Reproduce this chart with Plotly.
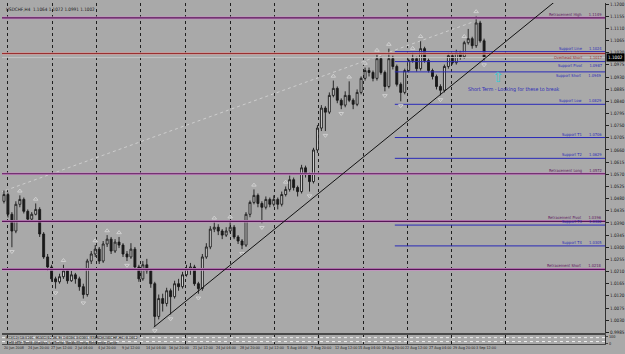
import plotly.graph_objects as go

# ---------------- data ----------------
bar_index = list(range(122))
opens = [1.0470,1.0495,1.0422,1.0360,1.0459,1.0477,1.0433,1.0404,1.0422,1.0440,
         1.0349,1.0264,1.0227,1.0183,1.0172,1.0191,1.0213,1.0176,1.0198,1.0183,
         1.0154,1.0125,1.0249,1.0275,1.0293,1.0249,1.0312,1.0330,1.0286,1.0319,
         1.0308,1.0275,1.0264,1.0293,1.0227,1.0183,1.0235,1.0213,1.0165,1.0044,
         1.0110,1.0092,1.0139,1.0117,1.0165,1.0154,1.0198,1.0220,1.0227,1.0165,
         1.0147,1.0264,1.0301,1.0367,1.0374,1.0360,1.0345,1.0360,1.0374,1.0338,
         1.0323,1.0308,1.0422,1.0466,1.0492,1.0462,1.0448,1.0477,1.0459,1.0477,
         1.0459,1.0495,1.0514,1.0550,1.0521,1.0506,1.0594,1.0569,1.0543,1.0660,
         1.0741,1.0815,1.0800,1.0862,1.0888,1.0844,1.0826,1.0862,1.0844,1.0829,
         1.0873,1.0925,1.0954,1.0947,1.0925,1.0998,1.0947,1.0895,1.0998,1.0969,
         1.0903,1.0873,1.0954,1.0991,1.0998,1.0961,1.1035,1.0991,1.0954,1.0932,
         1.0895,1.0881,1.0969,1.1009,1.0983,1.1020,1.1005,1.1057,1.1072,1.1046,
         1.1130,1.1064]
highs = [1.0510,1.0502,1.0430,1.0470,1.0492,1.0484,1.0440,1.0430,1.0462,1.0448,
         1.0356,1.0275,1.0235,1.0191,1.0202,1.0235,1.0220,1.0213,1.0205,1.0191,
         1.0165,1.0257,1.0286,1.0308,1.0301,1.0323,1.0345,1.0338,1.0330,1.0338,
         1.0315,1.0286,1.0315,1.0301,1.0235,1.0249,1.0257,1.0220,1.0172,1.0125,
         1.0128,1.0150,1.0147,1.0176,1.0183,1.0209,1.0235,1.0242,1.0235,1.0172,
         1.0275,1.0315,1.0378,1.0392,1.0385,1.0367,1.0374,1.0396,1.0382,1.0345,
         1.0330,1.0430,1.0473,1.0514,1.0499,1.0470,1.0488,1.0484,1.0492,1.0484,
         1.0506,1.0525,1.0565,1.0558,1.0528,1.0605,1.0602,1.0576,1.0668,1.0752,
         1.0826,1.0822,1.0873,1.0917,1.0895,1.0851,1.0877,1.0914,1.0851,1.0884,
         1.0932,1.0965,1.0965,1.0954,1.1013,1.1005,1.0954,1.1035,1.1009,1.0976,
         1.0910,1.0961,1.0998,1.1020,1.1005,1.1064,1.1042,1.0998,1.0961,1.0939,
         1.0903,1.0976,1.1020,1.1016,1.1031,1.1027,1.1064,1.1108,1.1079,1.1156,
         1.1138,1.1072]
lows = [1.0462,1.0410,1.0300,1.0352,1.0448,1.0425,1.0396,1.0398,1.0418,1.0338,
        1.0257,1.0213,1.0172,1.0147,1.0165,1.0183,1.0165,1.0172,1.0165,1.0139,
        1.0110,1.0117,1.0238,1.0264,1.0238,1.0242,1.0301,1.0275,1.0279,1.0297,
        1.0264,1.0249,1.0257,1.0220,1.0172,1.0176,1.0202,1.0150,1.0007,1.0033,
        1.0062,1.0081,1.0051,1.0110,1.0139,1.0147,1.0191,1.0198,1.0157,1.0128,
        1.0139,1.0257,1.0293,1.0356,1.0345,1.0330,1.0338,1.0352,1.0330,1.0312,
        1.0293,1.0301,1.0411,1.0459,1.0448,1.0389,1.0440,1.0448,1.0451,1.0440,
        1.0451,1.0488,1.0506,1.0510,1.0488,1.0499,1.0558,1.0506,1.0536,1.0649,
        1.0730,1.0730,1.0793,1.0855,1.0833,1.0811,1.0818,1.0837,1.0811,1.0822,
        1.0866,1.0917,1.0932,1.0914,1.0917,1.0939,1.0877,1.0888,1.0958,1.0895,
        1.0840,1.0866,1.0947,1.0983,1.0950,1.0954,1.0983,1.0947,1.0921,1.0884,
        1.0862,1.0873,1.0961,1.0976,1.0976,1.0994,1.0998,1.1050,1.1035,1.1038,
        1.1057,1.0991]
closes = [1.0495,1.0422,1.0360,1.0459,1.0477,1.0433,1.0404,1.0422,1.0440,1.0349,
          1.0264,1.0227,1.0183,1.0172,1.0191,1.0213,1.0176,1.0198,1.0183,1.0154,
          1.0125,1.0249,1.0275,1.0293,1.0249,1.0312,1.0330,1.0286,1.0319,1.0308,
          1.0275,1.0264,1.0293,1.0227,1.0183,1.0235,1.0213,1.0165,1.0044,1.0110,
          1.0092,1.0139,1.0117,1.0165,1.0154,1.0198,1.0220,1.0227,1.0165,1.0147,
          1.0264,1.0301,1.0367,1.0374,1.0360,1.0345,1.0360,1.0374,1.0338,1.0323,
          1.0308,1.0422,1.0466,1.0492,1.0462,1.0448,1.0477,1.0459,1.0477,1.0459,
          1.0495,1.0514,1.0550,1.0521,1.0506,1.0594,1.0569,1.0543,1.0660,1.0741,
          1.0815,1.0800,1.0862,1.0888,1.0844,1.0826,1.0862,1.0844,1.0829,1.0873,
          1.0925,1.0954,1.0947,1.0925,1.0998,1.0947,1.0895,1.0998,1.0969,1.0903,
          1.0873,1.0954,1.0991,1.0998,1.0961,1.1035,1.0991,1.0954,1.0932,1.0895,
          1.0881,1.0969,1.1009,1.0983,1.1020,1.1005,1.1057,1.1072,1.1046,1.1130,
          1.1064,1.1002]

frac_up_idx = [4, 8, 15, 23, 26, 29, 53, 57, 63, 71, 83, 87, 91, 94, 97, 103, 105, 116, 119]
frac_dn_idx = [2, 13, 20, 31, 38, 42, 49, 60, 65, 77, 81, 85, 96, 100, 110, 121]

price_ticks = [1.1200, 1.1155, 1.1110, 1.1065, 1.1020, 1.0975, 1.0930, 1.0885, 1.0840,
               1.0795, 1.0750, 1.0705, 1.0660, 1.0615, 1.0570, 1.0525, 1.0480, 1.0435,
               1.0390, 1.0345, 1.0300, 1.0255, 1.0210, 1.0165, 1.0120, 1.0075, 1.0030, 0.9985]

time_labels = ["20 Jun 2008", "24 Jun 20:00", "27 Jun 12:00", "2 Jul 04:00", "4 Jul 20:00",
               "9 Jul 12:00", "14 Jul 04:00", "16 Jul 20:00", "21 Jul 12:00", "24 Jul 04:00",
               "28 Jul 20:00", "31 Jul 12:00", "5 Aug 04:00", "7 Aug 20:00", "12 Aug 12:00",
               "15 Aug 04:00", "19 Aug 20:00", "22 Aug 12:00", "27 Aug 04:00", "29 Aug 20:00",
               "3 Sep 12:00"]

retr_names = ["Retracement High", "Retracement Long", "Retracement Pivot", "Retracement Short"]
retr_levels = [1.1149, 1.0572, 1.0396, 1.0218]
over_names = ["Overhead Short"]
over_levels = [1.1017]
supp_names = ["Support Line", "Support Pivot", "Support Short", "Support Low",
              "Support T1", "Support T2", "Support T3", "Support T4"]
supp_levels = [1.1024, 1.0987, 1.0949, 1.0829, 1.0706, 1.0629, 1.0382, 1.0305]
supp_label_below = [False, True, True, False, False, False, False, False]

trend_x = [37.75, 139.0]
trend_y = [1.0004, 1.1211]
channel_x = [-1.0, 118.25]
channel_y = [1.0503, 1.1134]

note_text = "Short Term - Looking for these to break"
note_x = 128.5
note_y = 1.0884
arrow_x = 124.5
arrow_y = 1.0930

last_price = 1.1002
header = "USDCHF,H4  1.1064 1.1072 1.0991 1.1002"

# ---------------- figure ----------------
BG = "#a9a9a9"
XR = [-0.5, 151.5]
PURPLE = "#561656"
PINK = "#c88ec4"
BLUE = "#2a2ab8"
RED = "#9a3030"

fig = go.Figure()

fig.add_trace(go.Scatter(x=channel_x, y=channel_y, mode="lines",
                         line=dict(color="#cdcdcd", width=1, dash="dot"), hoverinfo="skip"))

for lvl in retr_levels:
    fig.add_trace(go.Scatter(x=XR, y=[lvl, lvl], mode="lines",
                             line=dict(color=PINK, width=2.6), hoverinfo="skip"))
    fig.add_trace(go.Scatter(x=XR, y=[lvl, lvl], mode="lines",
                             line=dict(color=PURPLE, width=1.2), hoverinfo="skip"))
for lvl in over_levels:
    fig.add_trace(go.Scatter(x=XR, y=[lvl, lvl], mode="lines",
                             line=dict(color="#c99a9a", width=2.6), hoverinfo="skip"))
    fig.add_trace(go.Scatter(x=XR, y=[lvl, lvl], mode="lines",
                             line=dict(color=RED, width=1.2), hoverinfo="skip"))
fig.add_trace(go.Scatter(x=XR, y=[last_price, last_price], mode="lines",
                         line=dict(color="#c4c4c4", width=1), hoverinfo="skip"))
for lvl in supp_levels:
    fig.add_trace(go.Scatter(x=[98.5, XR[1]], y=[lvl, lvl], mode="lines",
                             line=dict(color=BLUE, width=1), hoverinfo="skip"))

fig.add_trace(go.Candlestick(
    x=bar_index, open=opens, high=highs, low=lows, close=closes,
    increasing=dict(line=dict(color="#1a1a1a", width=0.9), fillcolor="#d8d8d8"),
    decreasing=dict(line=dict(color="#1a1a1a", width=0.9), fillcolor="#1a1a1a"),
    whiskerwidth=0, hoverinfo="skip"))

fig.add_trace(go.Scatter(x=frac_up_idx, y=[highs[i] + 0.0016 for i in frac_up_idx], mode="markers",
                         marker=dict(symbol="triangle-up-open", size=4, color="#d0d0d0",
                                     line=dict(width=1, color="#d0d0d0")), hoverinfo="skip"))
fig.add_trace(go.Scatter(x=frac_dn_idx, y=[lows[i] - 0.0016 for i in frac_dn_idx], mode="markers",
                         marker=dict(symbol="triangle-down-open", size=4, color="#d0d0d0",
                                     line=dict(width=1, color="#d0d0d0")), hoverinfo="skip"))

fig.add_trace(go.Scatter(x=trend_x, y=trend_y, mode="lines",
                         line=dict(color="#111111", width=1), hoverinfo="skip"))

for lvl in [72, 28]:
    fig.add_trace(go.Scatter(x=XR, y=[lvl, lvl], mode="lines", xaxis="x2", yaxis="y2",
                             line=dict(color="#f0f0f0", width=1, dash="dot"), hoverinfo="skip"))

grid_pos = [1.0, 12.25, 23.25, 34.5, 45.75, 57, 68.25, 79.25, 90.5, 101.75, 112.75, 126.5]

fig.update_layout(
    width=625, height=354, margin=dict(l=0, r=0, t=0, b=0), autosize=False,
    paper_bgcolor=BG, plot_bgcolor=BG, showlegend=False,
    font=dict(family="DejaVu Sans Condensed, DejaVu Sans", size=5, color="#1a1a1a"),
    xaxis=dict(domain=[2/625, 610/625], range=XR, rangeslider=dict(visible=False),
               tickvals=grid_pos, showticklabels=False, ticks="",
               showgrid=True, gridcolor="#1e1e1e", griddash="dot", gridwidth=1,
               zeroline=False, showline=True, linecolor="#4a4a4a", linewidth=2),
    yaxis=dict(domain=[19/354, 352/354], range=[0.9982, 1.1204], side="right",
               tickvals=price_ticks, ticktext=[f"{v:.4f}" for v in price_ticks],
               ticks="outside", ticklen=3, tickcolor="#202020", tickwidth=1,
               tickfont=dict(size=4.6, color="#1a1a1a"),
               showgrid=False, zeroline=False, showline=True, linecolor="#303030", linewidth=1),
    xaxis2=dict(domain=[2/625, 610/625], range=XR, anchor="y2", matches="x",
                tickvals=grid_pos, showticklabels=False, ticks="",
                showgrid=True, gridcolor="#1e1e1e", griddash="dot", zeroline=False,
                showline=True, linecolor="#4a4a4a", linewidth=1),
    yaxis2=dict(domain=[8/354, 17/354], range=[0, 100], side="right",
                tickvals=[80, 10], ticktext=["100", "0"], ticks="outside", ticklen=2,
                tickfont=dict(size=3.8), showgrid=False, zeroline=False,
                showline=True, linecolor="#303030"),
)

def add_level_label(name, lvl, color, below=False):
    fig.add_annotation(x=XR[1] - 0.4, y=lvl, xref="x", yref="y",
                       text=f"{name}\u2003\u2003{lvl:.4f}", showarrow=False,
                       xanchor="right", yanchor="top" if below else "bottom",
                       yshift=1 if below else -1,
                       font=dict(size=4.0, color=color))

for n, l in zip(retr_names, retr_levels):
    add_level_label(n, l, "#5e165e")
for n, l in zip(over_names, over_levels):
    add_level_label(n, l, RED, below=True)
for n, l, b in zip(supp_names, supp_levels, supp_label_below):
    add_level_label(n, l, BLUE, below=b)

fig.add_annotation(x=611/625, y=last_price, xref="paper", yref="y", text=f"{last_price:.4f}",
                   showarrow=False, xanchor="left", yanchor="middle", bgcolor="#000000",
                   font=dict(size=4.6, color="#ffffff"), borderpad=1)

fig.add_annotation(x=note_x, y=note_y, xref="x", yref="y", text=note_text, showarrow=False,
                   font=dict(size=5.2, color="#2a2ab8"), xanchor="center", yanchor="middle")
fig.add_annotation(x=arrow_x, y=arrow_y, xref="x", yref="y", text="\u21e7", showarrow=False,
                   font=dict(size=14, color="#3ec8d0", family="DejaVu Sans"),
                   xanchor="center", yanchor="middle")

fig.add_annotation(x=4/625, y=1 - 4/354, xref="paper", yref="paper", text=header,
                   showarrow=False, xanchor="left", yanchor="top",
                   font=dict(size=4.6, color="#1a1a1a"))

fig.add_annotation(x=4/625, y=15/354, xref="paper", yref="paper",
                   text="RSI(14) 58.3101  MACD(12,26,9) 0.0004 0.0003  TREND(USDCHF,H4) 0.0012",
                   showarrow=False, xanchor="left", yanchor="middle",
                   font=dict(size=3.8, color="#1e1e1e"))
fig.add_annotation(x=4/625, y=10/354, xref="paper", yref="paper",
                   text="THV MTF Trend Analysis  UpTrend  Weak/Strong Reference Curve",
                   showarrow=False, xanchor="left", yanchor="middle",
                   font=dict(size=3.8, color="#1e1e1e"))

n = len(time_labels)
for k, lab in enumerate(time_labels):
    pos = -0.5 + k * (119.0 / (n - 1))
    fig.add_annotation(x=pos, y=4/354, xref="x", yref="paper", text=lab, showarrow=False,
                       xanchor="left", yanchor="middle", font=dict(size=3.7, color="#1a1a1a"))

fig.write_html("out.html")
